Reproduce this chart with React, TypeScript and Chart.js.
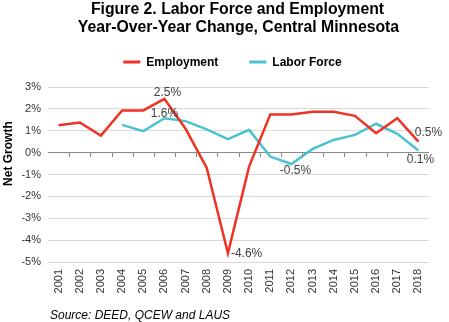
import React, { useEffect, useRef } from "react";
import { Chart, registerables } from "chart.js";

Chart.register(...registerables);

const years = ["2001","2002","2003","2004","2005","2006","2007","2008","2009","2010","2011","2012","2013","2014","2015","2016","2017","2018"];
const employment = [1.25, 1.38, 0.78, 1.93, 1.93, 2.46, 1.09, -0.7, -4.6, -0.64, 1.74, 1.74, 1.87, 1.87, 1.68, 0.89, 1.57, 0.5];
const laborForce = [null, null, null, 1.27, 0.98, 1.57, 1.44, 1.06, 0.62, 1.04, -0.18, -0.52, 0.17, 0.58, 0.81, 1.32, 0.86, 0.1];
const yTicks = [-5, -4, -3, -2, -1, 0, 1, 2, 3];
const titleLines = ["Figure 2. Labor Force and Employment", "Year-Over-Year Change, Central Minnesota"];
const seriesNames = ["Employment", "Labor Force"];
const yAxisTitle = "Net Growth";
const sourceText = "Source: DEED, QCEW and LAUS";

// which points carry a value label (dataset index, year)
const labelled = [
  { ds: 0, year: "2006", dx: 3, dy: -6, align: "center" },
  { ds: 1, year: "2006", dx: 0, dy: -5, align: "center" },
  { ds: 0, year: "2009", dx: 3, dy: 0, align: "left" },
  { ds: 1, year: "2012", dx: 4, dy: 7, align: "center" },
  { ds: 0, year: "2018", dx: 10, dy: -9, align: "center" },
  { ds: 1, year: "2018", dx: 2, dy: 9, align: "center" },
];

const RED = "#ee3224";
const CYAN = "#4bc2d2";
const GRID = "#d9d9d9";
const ZERO = "#8a8a8a";
const FONT = "'Liberation Sans', Arial, Helvetica, sans-serif";

const decor = {
  id: "decor",
  afterDatasetsDraw(chart: any) {
    const { ctx, scales } = chart;
    const xs = scales.x, ys = scales.y;
    ctx.save();
    ctx.font = `12px ${FONT}`;
    ctx.fillStyle = "#404040";
    ctx.textBaseline = "middle";
    for (const l of labelled) {
      const i = years.indexOf(l.year);
      const v = chart.data.datasets[l.ds].data[i] as number;
      const px = xs.getPixelForValue(i);
      const py = ys.getPixelForValue(v);
      ctx.textAlign = l.align;
      ctx.fillText(`${v.toFixed(1)}%`, px + l.dx, py + l.dy);
    }
    ctx.restore();
  },
  afterDraw(chart: any) {
    const { ctx, chartArea, scales } = chart;
    const xs = scales.x, ys = scales.y;
    const cx = (chartArea.left + chartArea.right) / 2;
    ctx.save();
    // tick marks on the zero line
    const y0 = Math.round(ys.getPixelForValue(0));
    ctx.strokeStyle = ZERO;
    ctx.lineWidth = 1;
    for (let i = 1; i < years.length; i++) {
      const bx = Math.round((xs.getPixelForValue(i - 1) + xs.getPixelForValue(i)) / 2) + 0.5;
      ctx.beginPath();
      ctx.moveTo(bx, y0);
      ctx.lineTo(bx, y0 + 4);
      ctx.stroke();
    }
    // title
    ctx.fillStyle = "#000";
    ctx.font = `bold 15.8px ${FONT}`;
    ctx.textAlign = "center";
    ctx.textBaseline = "alphabetic";
    ctx.fillText(titleLines[0], cx - 1, 14);
    ctx.fillText(titleLines[1], cx, 31.5);
    // legend
    ctx.font = `bold 12px ${FONT}`;
    const w0 = ctx.measureText(seriesNames[0]).width;
    const w1 = ctx.measureText(seriesNames[1]).width;
    const lineW = 17, gapT = 6, gapI = 31;
    const total = lineW + gapT + w0 + gapI + lineW + gapT + w1;
    let lx = cx - 6 - total / 2;
    const ly = 62;
    const colors = [RED, CYAN];
    ctx.textAlign = "left";
    ctx.textBaseline = "middle";
    [w0, w1].forEach((w, k) => {
      ctx.strokeStyle = colors[k];
      ctx.lineWidth = 3;
      ctx.beginPath();
      ctx.moveTo(lx, ly);
      ctx.lineTo(lx + lineW, ly);
      ctx.stroke();
      ctx.fillStyle = "#000";
      ctx.fillText(seriesNames[k], lx + lineW + gapT, ly + 1);
      lx += lineW + gapT + w + gapI;
    });
    // y axis title
    ctx.save();
    ctx.translate(12, ys.getPixelForValue(0) + 1);
    ctx.rotate(-Math.PI / 2);
    ctx.font = `bold 12px ${FONT}`;
    ctx.textAlign = "center";
    ctx.textBaseline = "alphabetic";
    ctx.fillStyle = "#000";
    ctx.fillText(yAxisTitle, 0, 0);
    ctx.restore();
    // source
    ctx.font = `italic 12px ${FONT}`;
    ctx.fillStyle = "#000";
    ctx.textAlign = "left";
    ctx.textBaseline = "alphabetic";
    ctx.fillText(sourceText, 50, 319);
    ctx.restore();
  },
};

export default function App() {
  const ref = useRef<HTMLCanvasElement | null>(null);
  useEffect(() => {
    if (!ref.current) return;
    const chart = new Chart(ref.current, {
      type: "line",
      data: {
        labels: years,
        datasets: [
          { label: seriesNames[0], data: employment, borderColor: RED, backgroundColor: RED, borderWidth: 2.5, pointRadius: 0, tension: 0 },
          { label: seriesNames[1], data: laborForce, borderColor: CYAN, backgroundColor: CYAN, borderWidth: 2.5, pointRadius: 0, tension: 0 },
        ],
      },
      options: {
        responsive: false,
        animation: false,
        devicePixelRatio: 1,
        layout: { padding: { top: 87, right: 20, bottom: 0, left: 0 } },
        plugins: { legend: { display: false }, title: { display: false }, tooltip: { enabled: false } },
        scales: {
          x: {
            type: "category",
            offset: true,
            grid: { display: false, drawTicks: false },
            border: { display: false },
            ticks: {
              autoSkip: false,
              minRotation: 90,
              maxRotation: 90,
              padding: 7,
              color: "#333",
              font: { family: FONT, size: 11 },
            },
            afterFit: (s: any) => { s.height = 60; },
          },
          y: {
            min: yTicks[0],
            max: yTicks[yTicks.length - 1],
            afterBuildTicks: (s: any) => { s.ticks = yTicks.map((v) => ({ value: v })); },
            grid: {
              drawTicks: false,
              color: (c: any) => (c.tick && c.tick.value === 0 ? ZERO : GRID),
              lineWidth: 1,
            },
            border: { display: false },
            ticks: {
              padding: 7,
              color: "#333",
              font: { family: FONT, size: 11 },
              callback: (v: any) => `${v}%`,
            },
            afterFit: (s: any) => { s.width = 48; },
          },
        },
      },
      plugins: [decor],
    });
    return () => chart.destroy();
  }, []);
  return (
    <div style={{ position: "fixed", left: 0, top: 0, width: 449, height: 322, background: "#fff" }}>
      <canvas ref={ref} width={449} height={322} style={{ display: "block" }} />
    </div>
  );
}
